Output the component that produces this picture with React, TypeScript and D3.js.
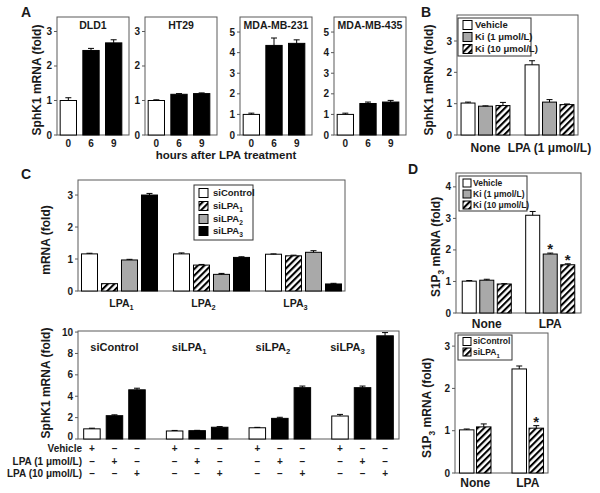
import React from "react";
import * as d3 from "d3";

const FONT = "'Liberation Sans', Arial, Helvetica, sans-serif";
const AXIS = "#5a5a5a";
const TXT = "#1a1a1a";

// ---------- Panel A ----------
const aCells = ["DLD1", "HT29", "MDA-MB-231", "MDA-MB-435"];
const aHours = ["0", "6", "9"];
const aDLD1 = [1.0, 2.45, 2.67];
const aDLD1Err = [0.08, 0.06, 0.09];
const aHT29 = [1.0, 1.18, 1.2];
const aHT29Err = [0.02, 0.02, 0.02];
const aMDA231 = [1.0, 4.35, 4.45];
const aMDA231Err = [0.06, 0.36, 0.17];
const aMDA435 = [1.0, 1.53, 1.6];
const aMDA435Err = [0.06, 0.07, 0.08];
const aYMax = [3.42, 3.42, 5.73, 5.73];
const aTicks3 = [0, 1, 2, 3];
const aTicks5 = [0, 1, 2, 3, 4, 5];
const aFills = ["white", "black", "black"];

// ---------- Panel B ----------
const bGroups = ["None", "LPA (1 μmol/L)"];
const bSeries = ["Vehicle", "Ki (1 μmol/L)", "Ki (10 μmol/L)"];
const bFills = ["white", "gray", "hatch"];
const bNone = [1.02, 0.92, 0.94];
const bNoneErr = [0.03, 0.01, 0.1];
const bLPA = [2.24, 1.05, 0.97];
const bLPAErr = [0.13, 0.08, 0.02];
const bTicks = [0, 1, 2, 3];

// ---------- Panel C (top) ----------
const cGroups = ["LPA_1", "LPA_2", "LPA_3"];
const cSeries = ["siControl", "siLPA_1", "siLPA_2", "siLPA_3"];
const cFills = ["white", "hatch", "gray", "black"];
const cLPA1 = [1.16, 0.23, 0.97, 3.0];
const cLPA1Err = [0.02, 0.0, 0.02, 0.05];
const cLPA2 = [1.16, 0.81, 0.52, 1.05];
const cLPA2Err = [0.03, 0.02, 0.03, 0.02];
const cLPA3 = [1.15, 1.1, 1.21, 0.22];
const cLPA3Err = [0.01, 0.02, 0.05, 0.02];
const cTicks = [0, 1, 2, 3];

// ---------- Panel C (bottom) ----------
const cbGroups = ["siControl", "siLPA_1", "siLPA_2", "siLPA_3"];
const cbCols = ["Vehicle", "LPA (1 μmol/L)", "LPA (10 μmol/L)"];
const cbFills = ["white", "black", "black"];
const cbSiControl = [0.95, 2.18, 4.6];
const cbSiControlErr = [0.06, 0.08, 0.15];
const cbSiLPA1 = [0.75, 0.78, 1.1];
const cbSiLPA1Err = [0.05, 0.03, 0.06];
const cbSiLPA2 = [1.05, 1.93, 4.8];
const cbSiLPA2Err = [0.04, 0.1, 0.15];
const cbSiLPA3 = [2.15, 4.8, 9.65];
const cbSiLPA3Err = [0.15, 0.15, 0.3];
const cbTicks = [0, 2, 4, 6, 8, 10];

// ---------- Panel D (top) ----------
const dGroups = ["None", "LPA"];
const dSeries = ["Vehicle", "Ki (1 μmol/L)", "Ki (10 μmol/L)"];
const dFills = ["white", "gray", "hatch"];
const dNone = [1.01, 1.04, 0.92];
const dNoneErr = [0.02, 0.03, 0.01];
const dLPA = [3.1, 1.87, 1.53];
const dLPAErr = [0.12, 0.03, 0.03];
const dStars = [[false, false, false], [false, true, true]];
const dTicks = [0, 1, 2, 3, 4];

// ---------- Panel D (bottom) ----------
const deGroups = ["None", "LPA"];
const deSeries = ["siControl", "siLPA_1"];
const deFills = ["white", "hatch"];
const deNone = [1.02, 1.09];
const deNoneErr = [0.02, 0.07];
const deLPA = [2.46, 1.06];
const deLPAErr = [0.07, 0.06];
const deStars = [[false, false], [false, true]];
const deTicks = [0, 1, 2, 3];

function fillColor(kind: string) {
  if (kind === "black") return "#000";
  if (kind === "gray") return "#a9a9a9";
  if (kind === "hatch") return "url(#hatch)";
  return "#fff";
}

function rich(label: string, fs: number) {
  const parts = label.split("_");
  return parts.map((p, i) => {
    if (i % 2 === 1)
      return (
        <tspan key={i} dy={fs * 0.3} fontSize={fs * 0.7}>
          {p}
        </tspan>
      );
    if (i > 0)
      return (
        <tspan key={i} dy={-fs * 0.3}>
          {p}
        </tspan>
      );
    return <tspan key={i}>{p}</tspan>;
  });
}

function Bar({ x, w, y, v, e, kind, star }: any) {
  const top = y(v);
  const base = y(0);
  const cx = x + w / 2;
  const et = y(v + e);
  return (
    <g>
      <rect x={x} y={top} width={w} height={base - top} fill={fillColor(kind)} stroke="#000" strokeWidth={1} />
      {e > 0 && (
        <g stroke="#000" strokeWidth={1}>
          <line x1={cx} x2={cx} y1={top} y2={et} />
          <line x1={cx - 3} x2={cx + 3} y1={et} y2={et} />
        </g>
      )}
      {star && (
        <text x={cx} y={et + 1} textAnchor="middle" fontSize={15} fontWeight="bold" fill={TXT}>
          *
        </text>
      )}
    </g>
  );
}

function YTicks({ x, y, ticks, fs = 10, zeroLift = 0 }: any) {
  return (
    <g>
      {ticks.map((t: number) => (
        <g key={t}>
          <line x1={x - 3} x2={x} y1={y(t)} y2={y(t)} stroke={AXIS} />
          <text x={x - 5} y={y(t) - (t === 0 ? zeroLift : 0)} dy="0.35em" textAnchor="end" fontSize={fs} fontWeight="bold" fill={TXT}>
            {t}
          </text>
        </g>
      ))}
    </g>
  );
}

function Legend({ x, y, w, h, items, fills, rows, swX, sw, txX, fs }: any) {
  return (
    <g>
      <rect x={x} y={y} width={w} height={h} fill="#fff" stroke="#333" strokeWidth={1} />
      {items.map((it: string, i: number) => (
        <g key={it}>
          <rect x={swX} y={rows[i] - sw / 2} width={sw} height={sw} fill={fillColor(fills[i])} stroke="#000" />
          <text x={txX} y={rows[i]} dy="0.35em" fontSize={fs} fontWeight="bold" fill={TXT}>
            {rich(it, fs)}
          </text>
        </g>
      ))}
    </g>
  );
}

function YLabel({ x, y, label, fs = 12 }: any) {
  return (
    <text
      transform={`translate(${x},${y}) rotate(-90)`}
      textAnchor="middle"
      fontSize={fs}
      fontWeight="bold"
      fill={TXT}
    >
      {rich(label, fs)}
    </text>
  );
}

function Grouped({ groups, series, fills, values, errors, stars, x0, x1, yTop, yBot, yMax, ticks, pOut, qOut, pIn, qIn, zeroLift = 0 }: any) {
  const y = d3.scaleLinear().domain([0, yMax]).range([yBot, yTop]);
  const outer = d3.scaleBand().domain(groups).range([x0, x1]).paddingInner(pOut).paddingOuter(qOut);
  const inner = d3.scaleBand().domain(series).range([0, outer.bandwidth()]).paddingInner(pIn).paddingOuter(qIn);
  return {
    y,
    outer,
    inner,
    el: (
      <g>
        <rect x={x0} y={yTop} width={x1 - x0} height={yBot - yTop} fill="none" stroke={AXIS} />
        <YTicks x={x0} y={y} ticks={ticks} zeroLift={zeroLift} />
        {groups.map((g: string, gi: number) =>
          series.map((s: string, si: number) => (
            <Bar
              key={g + s}
              x={(outer(g) as number) + (inner(s) as number)}
              w={inner.bandwidth()}
              y={y}
              v={values[gi][si]}
              e={errors[gi][si]}
              kind={fills[si]}
              star={stars ? stars[gi][si] : false}
            />
          ))
        )}
      </g>
    ),
  };
}

export default function App() {
  const aValues = [aDLD1, aHT29, aMDA231, aMDA435];
  const aErrors = [aDLD1Err, aHT29Err, aMDA231Err, aMDA435Err];
  const aFrameX = [57, 145, 240, 334];

  const B = Grouped({
    groups: bGroups, series: bSeries, fills: bFills,
    values: [bNone, bLPA], errors: [bNoneErr, bLPAErr],
    x0: 457, x1: 578, yTop: 15, yBot: 135, yMax: 3.83, ticks: bTicks,
    pOut: 0.19, qOut: 0.04, pIn: 0.2, qIn: 0.085,
  });
  const C = Grouped({
    groups: cGroups, series: cSeries, fills: cFills,
    values: [cLPA1, cLPA2, cLPA3], errors: [cLPA1Err, cLPA2Err, cLPA3Err],
    x0: 78, x1: 345, yTop: 180, yBot: 291, yMax: 3.47, ticks: cTicks,
    pOut: 0.174, qOut: 0.038, pIn: 0.2, qIn: 0.0,
  });
  const CB = Grouped({
    groups: cbGroups, series: cbCols, fills: cbFills,
    values: [cbSiControl, cbSiLPA1, cbSiLPA2, cbSiLPA3],
    errors: [cbSiControlErr, cbSiLPA1Err, cbSiLPA2Err, cbSiLPA3Err],
    x0: 78, x1: 399, yTop: 331, yBot: 439, yMax: 10.1, ticks: cbTicks,
    pOut: 0.25, qOut: 0.066, pIn: 0.267, qIn: 0.01, zeroLift: 3,
  });
  const D = Grouped({
    groups: dGroups, series: dSeries, fills: dFills,
    values: [dNone, dLPA], errors: [dNoneErr, dLPAErr], stars: dStars,
    x0: 456, x1: 581, yTop: 173, yBot: 313, yMax: 4.44, ticks: dTicks,
    pOut: 0.21, qOut: 0.09, pIn: 0.2, qIn: 0.03,
  });
  const DE = Grouped({
    groups: deGroups, series: deSeries, fills: deFills,
    values: [deNone, deLPA], errors: [deNoneErr, deLPAErr], stars: deStars,
    x0: 455, x1: 548, yTop: 333, yBot: 473, yMax: 3.31, ticks: deTicks,
    pOut: 0.39, qOut: 0.08, pIn: 0.15, qIn: 0.015,
  });

  const cbLabelShift = [0, -8, -7, -15];
  const cLabelShift = [2, -8, -8];

  return (
    <svg
      width={600}
      height={493}
      style={{ position: "absolute", left: 0, top: 0, background: "#fff" }}
      fontFamily={FONT}
    >
      <defs>
        <pattern id="hatch" patternUnits="userSpaceOnUse" width={4.6} height={4.6} patternTransform="rotate(45)">
          <rect width={4.6} height={4.6} fill="#fff" />
          <rect width={2.1} height={4.6} fill="#000" />
        </pattern>
      </defs>
      <rect width={600} height={493} fill="#fff" />

      {/* Panel letters */}
      <g fontSize={14} fontWeight="bold" fill={TXT}>
        <text x={21} y={17}>A</text>
        <text x={421} y={17}>B</text>
        <text x={21} y={179}>C</text>
        <text x={408} y={174}>D</text>
      </g>

      {/* Panel A */}
      <YLabel x={41} y={80} label="SphK1 mRNA (fold)" />
      {aCells.map((cell, ci) => {
        const x0 = aFrameX[ci];
        const y = d3.scaleLinear().domain([0, aYMax[ci]]).range([135, 17]);
        const xb = d3.scaleBand().domain(aHours).range([x0, x0 + 68]).paddingInner(0.28).paddingOuter(0.14);
        return (
          <g key={cell}>
            <rect x={x0} y={17} width={72} height={118} fill="none" stroke={AXIS} />
            <text x={x0 + 36} y={29} textAnchor="middle" fontSize={10.5} fontWeight="bold" fill={TXT}>
              {cell}
            </text>
            <YTicks x={x0} y={y} ticks={ci < 2 ? aTicks3 : aTicks5} />
            {aHours.map((h, i) => (
              <Bar key={h} x={xb(h)} w={xb.bandwidth()} y={y} v={aValues[ci][i]} e={aErrors[ci][i]} kind={aFills[i]} />
            ))}
            {aHours.map((h) => (
              <text key={"t" + h} x={(xb(h) as number) + xb.bandwidth() / 2} y={147} textAnchor="middle" fontSize={10} fontWeight="bold" fill={TXT}>
                {h}
              </text>
            ))}
          </g>
        );
      })}
      <text x={226} y={159} textAnchor="middle" fontSize={11.5} fontWeight="bold" fill={TXT}>
        hours after LPA treatment
      </text>

      {/* Panel B */}
      <YLabel x={433} y={80} label="SphK1 mRNA (fold)" />
      {B.el}
      {bGroups.map((g) => (
        <text key={g} x={(B.outer(g) as number) + B.outer.bandwidth() / 2} y={152} textAnchor="middle" fontSize={12} fontWeight="bold" fill={TXT}>
          {g}
        </text>
      ))}
      <Legend x={458} y={18} w={73} h={38} items={bSeries} fills={bFills} rows={[25, 37, 49]} swX={463} sw={9} txX={475} fs={9.5} />

      {/* Panel C top */}
      <YLabel x={50} y={240} label="mRNA (fold)" />
      {C.el}
      {cGroups.map((g, gi) => (
        <text key={g} x={(C.outer(g) as number) + C.outer.bandwidth() / 2 + cLabelShift[gi]} y={307} textAnchor="middle" fontSize={10.5} fontWeight="bold" fill={TXT}>
          {rich(g, 10.5)}
        </text>
      ))}
      <Legend x={194} y={185} w={59} h={55} items={cSeries} fills={cFills} rows={[193, 206, 219, 231]} swX={199} sw={9} txX={213} fs={9.5} />

      {/* Panel C bottom */}
      <YLabel x={50} y={383} label="SphK1 mRNA (fold)" />
      {CB.el}
      {cbGroups.map((g, gi) => (
        <text key={g} x={(CB.outer(g) as number) + CB.outer.bandwidth() / 2 + cbLabelShift[gi]} y={351} textAnchor="middle" fontSize={11} fontWeight="bold" fill={TXT}>
          {rich(g, 11)}
        </text>
      ))}
      {cbCols.map((c, ri) => (
        <g key={c}>
          <text x={82} y={452 + ri * 12.5} textAnchor="end" fontSize={10} fontWeight="bold" fill={TXT}>
            {c}
          </text>
          {cbGroups.map((g) =>
            cbCols.map((col, ci) => (
              <text
                key={g + col}
                x={(CB.outer(g) as number) + (CB.inner(col) as number) + CB.inner.bandwidth() / 2}
                y={452 + ri * 12.5}
                textAnchor="middle"
                fontSize={10}
                fontWeight="bold"
                fill={TXT}
              >
                {ci === ri ? "+" : "–"}
              </text>
            ))
          )}
        </g>
      ))}

      {/* Panel D top */}
      <YLabel x={440} y={247} label="S1P_3_ mRNA  (fold)" />
      {D.el}
      {dGroups.map((g) => (
        <text key={g} x={(D.outer(g) as number) + D.outer.bandwidth() / 2} y={328} textAnchor="middle" fontSize={12} fontWeight="bold" fill={TXT}>
          {g}
        </text>
      ))}
      <Legend x={459} y={176} w={68} h={35} items={dSeries} fills={dFills} rows={[183, 194, 205]} swX={463} sw={8} txX={473} fs={8.5} />

      {/* Panel D bottom */}
      <YLabel x={431} y={408} label="S1P_3_ mRNA  (fold)" />
      {DE.el}
      {deGroups.map((g) => (
        <text key={g} x={(DE.outer(g) as number) + DE.outer.bandwidth() / 2} y={487} textAnchor="middle" fontSize={12} fontWeight="bold" fill={TXT}>
          {g}
        </text>
      ))}
      <Legend x={458} y={335} w={54} h={25} items={deSeries} fills={deFills} rows={[341.5, 352]} swX={463} sw={8} txX={473} fs={8.5} />
    </svg>
  );
}
